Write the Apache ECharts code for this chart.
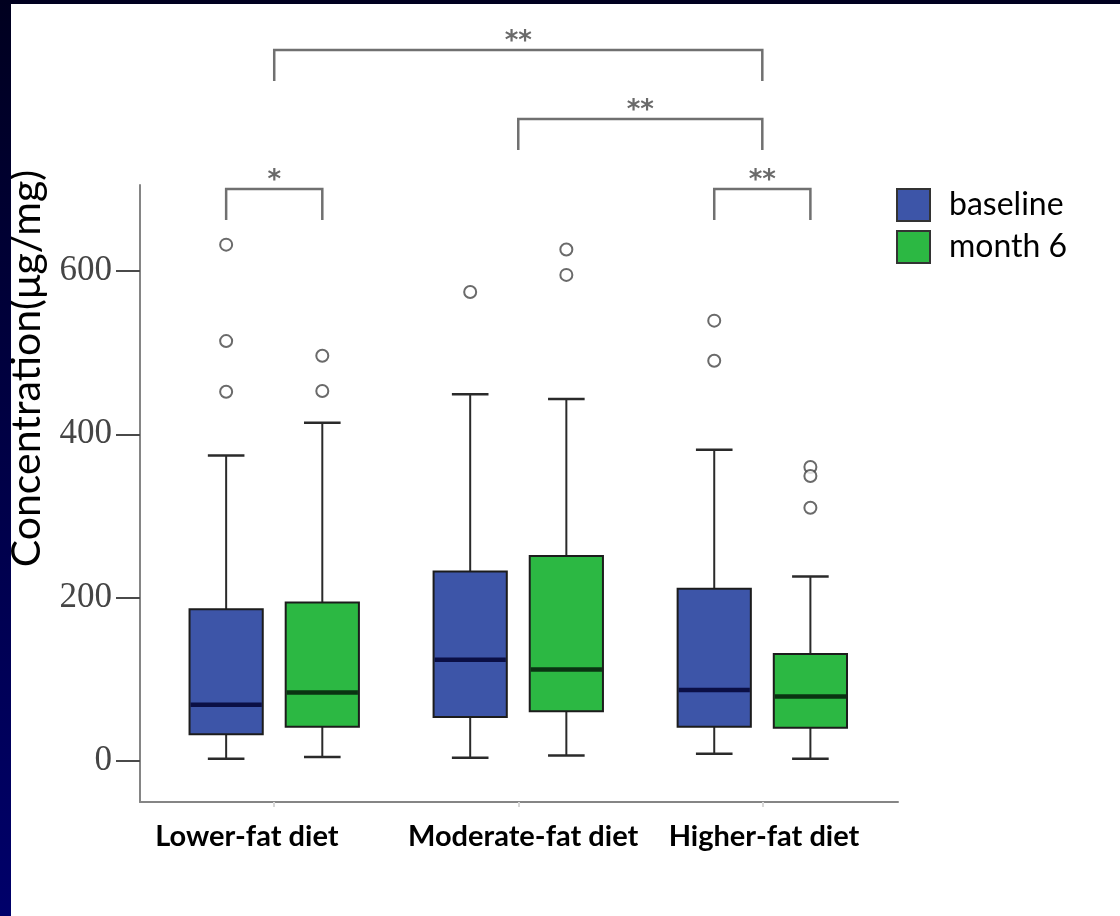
<!DOCTYPE html>
<html>
<head>
<meta charset="utf-8">
<title>Concentration by diet group</title>
<script src="https://cdn.jsdelivr.net/npm/echarts@6/dist/echarts.min.js"></script>
<style>
  html, body { margin: 0; padding: 0; }
  body {
    width: 1120px; height: 916px; overflow: hidden; position: relative;
    background: linear-gradient(to bottom, #00001f 0%, #000046 50%, #00006a 100%);
  }
  #chart {
    position: absolute; left: 11px; top: 4px; width: 1109px; height: 912px;
    background: #ffffff;
  }
</style>
</head>
<body>
<div id="chart"></div>
<script>
// Diet groups along the x axis
const groups = ['Lower-fat diet', 'Moderate-fat diet', 'Higher-fat diet'];

// Box summaries per group: [lower whisker, Q1, median, Q3, upper whisker]
const baselineBoxes = [
  [3, 33, 69, 186, 374],
  [4, 54, 124, 232, 449],
  [9, 42, 87, 211, 381]
];
const month6Boxes = [
  [5, 42, 84, 194, 414],
  [7, 61, 112, 251, 443],
  [3, 41, 79, 131, 226]
];

// Outlying observations per group
const baselineOutliers = [
  [632, 514, 452],
  [574],
  [539, 490]
];
const month6Outliers = [
  [496, 453],
  [626, 595],
  [360, 349, 310]
];

// Tick values for the concentration axis
const yTicks = [0, 200, 400, 600];

// Significance brackets between groups / time points
const comparisons = [
  { from: [0, 'baseline'], to: [0, 'month 6'], mark: '*', level: 0 },
  { from: [2, 'baseline'], to: [2, 'month 6'], mark: '**', level: 0 },
  { from: [1, null], to: [2, null], mark: '**', level: 1 },
  { from: [0, null], to: [2, null], mark: '**', level: 2 }
];

// ---- layout / style settings ----
const SERIES_OFFSET = { 'baseline': -0.197, 'month 6': 0.197 };
const BOX_WIDTH = 0.3;               // in x-axis units
const BLUE = '#3d55a8';
const GREEN = '#2cb843';
const WHISKER = '#2a2a2a';
const BOX_EDGE = '#1c1c1c';

function boxData(boxes, seriesName) {
  return boxes.map((b, i) => [i + SERIES_OFFSET[seriesName]].concat(b));
}
function outlierData(outs, seriesName) {
  const pts = [];
  outs.forEach((list, i) => list.forEach(v => pts.push([i + SERIES_OFFSET[seriesName], v])));
  return pts;
}

function boxRenderer(fill, medianColor) {
  return function (params, api) {
    const x = api.value(0);
    const pLo = api.coord([x, api.value(1)]);
    const pQ1 = api.coord([x, api.value(2)]);
    const pMd = api.coord([x, api.value(3)]);
    const pQ3 = api.coord([x, api.value(4)]);
    const pHi = api.coord([x, api.value(5)]);
    const w = api.size([BOX_WIDTH, 0])[0];
    const cx = pMd[0];
    const cap = w / 4;
    const seg = (x1, y1, x2, y2, lw, color) => ({
      type: 'line', shape: { x1, y1, x2, y2 }, style: { stroke: color, lineWidth: lw }
    });
    return {
      type: 'group',
      children: [
        seg(cx, pHi[1], cx, pQ3[1], 2, WHISKER),
        seg(cx, pQ1[1], cx, pLo[1], 2, WHISKER),
        seg(cx - cap, pHi[1], cx + cap, pHi[1], 2.5, WHISKER),
        seg(cx - cap, pLo[1], cx + cap, pLo[1], 2.5, WHISKER),
        {
          type: 'rect',
          shape: { x: cx - w / 2, y: pQ3[1], width: w, height: pQ1[1] - pQ3[1] },
          style: { fill: fill, stroke: BOX_EDGE, lineWidth: 2 }
        },
        seg(cx - w / 2 + 1, pMd[1], cx + w / 2 - 1, pMd[1], 4.5, medianColor)
      ]
    };
  };
}

const outlierStyle = { color: '#ffffff', borderColor: '#454545', borderWidth: 2 };

const chart = echarts.init(document.getElementById('chart'));
chart.setOption({
  animation: false,
  backgroundColor: '#ffffff',
  grid: { left: 129, right: 222, top: 181, bottom: 114, outerBoundsMode: 'none' },
  legend: {
    orient: 'vertical',
    left: 880, top: 179,
    itemWidth: 33, itemHeight: 32, itemGap: 8,
    selectedMode: false,
    textStyle: { fontFamily: 'Lato', fontSize: 32, color: '#000', padding: [0, 0, 0, 14] },
    data: [
      { name: 'baseline', icon: 'rect', itemStyle: { color: BLUE, borderColor: '#333', borderWidth: 2 } },
      { name: 'month 6', icon: 'rect', itemStyle: { color: GREEN, borderColor: '#333', borderWidth: 2 } }
    ]
  },
  xAxis: {
    type: 'value',
    min: -0.55, max: 2.556,
    splitLine: { show: false },
    axisLine: { onZero: false, lineStyle: { color: '#858585', width: 2 } },
    axisTick: { customValues: [0, 1, 2], length: 5, lineStyle: { color: '#d8d8d8', width: 2 } },
    axisLabel: {
      customValues: [-0.112, 1.02, 2.007],
      formatter: v => groups[Math.abs(Math.round(v))],
      margin: 20,
      fontFamily: 'Lato', fontWeight: 'bold', fontSize: 29, color: '#000'
    }
  },
  yAxis: {
    type: 'value',
    min: -50, max: 705,
    splitLine: { show: false },
    axisLine: { onZero: false, lineStyle: { color: '#858585', width: 2 } },
    axisTick: { customValues: yTicks, length: 24, lineStyle: { color: '#4a4a4a', width: 2 } },
    axisLabel: {
      customValues: yTicks, margin: 28,
      fontFamily: 'Liberation Serif', fontSize: 35, color: '#454545'
    },
    name: 'Concentration(μg/mg)',
    nameLocation: 'middle',
    nameGap: 93,
    nameTextStyle: {
      fontFamily: 'Lato', fontSize: 41, color: '#000',
      padding: [0, 0, 0, 250]
    }
  },
  series: [
    {
      name: 'baseline', type: 'custom',
      renderItem: boxRenderer(BLUE, '#0b0f45'),
      encode: { x: 0, y: [1, 2, 3, 4, 5] },
      data: boxData(baselineBoxes, 'baseline')
    },
    {
      name: 'month 6', type: 'custom',
      renderItem: boxRenderer(GREEN, '#0a3312'),
      encode: { x: 0, y: [1, 2, 3, 4, 5] },
      data: boxData(month6Boxes, 'month 6')
    },
    {
      name: 'baseline outliers', type: 'scatter',
      symbol: 'circle', symbolSize: 12, itemStyle: outlierStyle,
      data: outlierData(baselineOutliers, 'baseline')
    },
    {
      name: 'month 6 outliers', type: 'scatter',
      symbol: 'circle', symbolSize: 12, itemStyle: outlierStyle,
      data: outlierData(month6Outliers, 'month 6')
    }
  ]
});

// Significance brackets, stacked in tiers above the plot area
const TIER_Y = [185, 115, 46];       // bracket bar position per tier (px, in chart)
const LEG = 31;
const BRACKET = '#707070';
function endX(end) {
  const [g, s] = end;
  const x = s ? g + SERIES_OFFSET[s] : g;
  return chart.convertToPixel({ xAxisIndex: 0, yAxisIndex: 0 }, [x, 0])[0];
}
const graphics = [];
comparisons.forEach(c => {
  const x1 = endX(c.from), x2 = endX(c.to);
  const y = TIER_Y[c.level];
  graphics.push({
    type: 'polyline', silent: true,
    shape: { points: [[x1, y + LEG], [x1, y], [x2, y], [x2, y + LEG]] },
    style: { stroke: BRACKET, lineWidth: 2.5, fill: null }
  });
  graphics.push({
    type: 'text', silent: true,
    x: (x1 + x2) / 2, y: y - 8,
    style: {
      text: c.mark, fill: '#6a6a6a', font: 'bold 26px "DejaVu Sans"',
      align: 'center', verticalAlign: 'middle'
    }
  });
});
chart.setOption({ graphic: graphics });
</script>
</body>
</html>
